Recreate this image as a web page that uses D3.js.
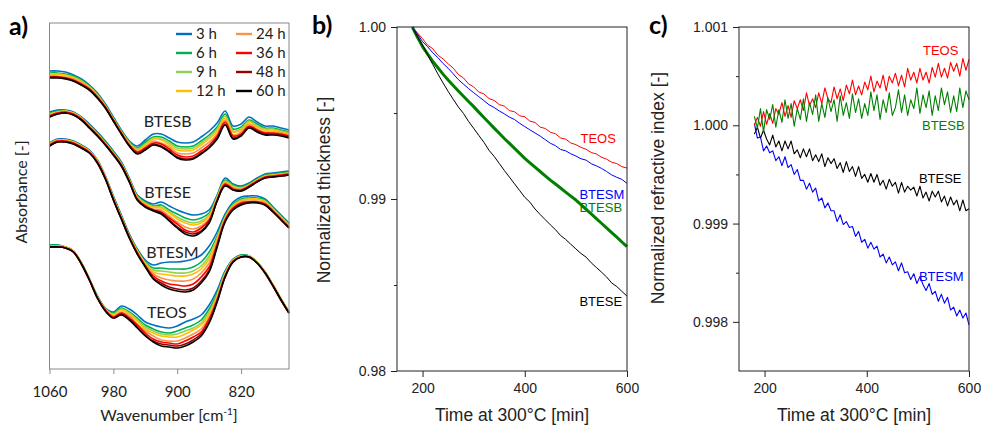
<!DOCTYPE html>
<html>
<head>
<meta charset="utf-8">
<script src="https://cdn.jsdelivr.net/npm/d3@7"></script>
<style>
  body { margin: 0; background: #fff; }
  svg { display: block; }
</style>
</head>
<body>
<svg id="chart"></svg>
<script>
// ---------- panel a: FTIR spectra ----------
let wavenumbers = [1060,1050,1040,1030,1020,1010,1000,990,980,970,960,950,940,930,920,910,900,890,880,870,860,850,840,830,820,810,800,790,780,770,760]
let hourLabels = ["3 h","6 h","9 h","12 h","24 h","36 h","48 h","60 h"]
let waveTicks = [1060, 980, 900, 820]

// absorbance with offset, arbitrary units (x0.01), one row per aging time
let absBTESB = [
  [298,298,297,294,290,284,276,265,252,239,228,223,229,235,235,231,227,226,227,232,238,246,258,243,245,252,247,243,243,241,239],
  [296,296,295,293,289,283,275,264,251,238,227,221,227,232,232,228,223,222,223,228,234,242,255,240,242,249,245,241,241,239,237],
  [295,295,294,292,288,282,274,263,250,237,226,220,225,231,230,226,221,220,221,226,232,240,253,238,240,248,243,240,240,238,236],
  [295,295,294,291,287,282,274,263,250,237,226,219,224,230,229,224,219,218,219,224,230,238,251,237,239,247,242,239,239,237,235],
  [293,293,292,290,286,281,273,262,249,236,225,218,222,228,226,222,216,215,216,221,227,235,249,234,237,245,240,237,237,236,234],
  [292,292,291,289,285,280,272,262,249,236,224,217,221,226,225,220,214,212,213,218,224,233,247,233,235,243,239,236,236,235,233],
  [292,292,291,288,284,279,271,261,248,235,223,216,220,225,223,218,212,210,211,216,222,231,245,231,234,242,238,235,235,234,232],
  [291,291,290,288,284,279,271,261,248,235,223,215,219,224,222,217,211,209,210,215,221,230,244,230,233,241,237,234,234,233,231]
]
let absBTESE = [
  [257,259,259,257,252,245,237,228,218,207,191,174,168,165,167,163,159,156,154,155,159,174,191,185,183,186,191,195,196,197,198],
  [256,258,258,256,251,244,236,227,217,206,190,173,167,163,164,159,155,151,149,151,156,173,189,184,182,185,190,194,195,196,197],
  [255,257,258,256,251,243,235,226,216,205,189,172,166,162,162,157,152,148,146,148,154,172,188,183,181,184,189,193,194,195,196],
  [255,257,258,256,251,243,235,226,216,205,189,172,165,162,161,156,150,146,144,146,153,171,187,182,181,184,189,193,194,195,196],
  [254,256,257,255,250,242,234,225,215,204,188,171,164,160,159,153,147,142,140,143,150,170,186,181,180,183,188,192,193,194,195],
  [253,256,257,255,250,242,234,225,215,204,188,170,163,159,157,151,145,139,137,141,149,169,185,180,179,183,188,192,193,194,195],
  [252,255,256,254,249,241,233,224,214,203,187,169,162,159,156,149,142,137,135,138,147,168,184,179,178,182,187,191,192,193,194],
  [252,255,256,254,249,241,233,224,214,203,187,169,162,158,155,148,141,135,133,137,146,168,183,179,178,182,187,191,192,193,194]
]
let absBTESM = [
  [226,230,230,228,224,219,209,193,173,154,135,120,109,104,106,107,107,108,110,114,123,137,155,167,172,173,173,170,162,154,146],
  [225,229,229,227,223,218,208,192,172,153,134,119,107,101,101,100,100,100,102,107,117,133,153,165,170,171,171,169,161,153,145],
  [225,229,229,227,223,218,208,192,171,152,133,118,106,99,98,97,96,96,98,103,113,131,152,164,169,170,170,168,160,152,144],
  [225,229,229,227,223,218,208,192,171,152,133,118,106,97,95,94,93,93,95,100,110,130,151,163,168,170,170,167,160,152,144],
  [224,228,228,226,222,217,207,191,170,151,132,117,104,95,91,89,88,88,90,96,106,127,150,162,167,168,168,166,159,151,143],
  [224,228,228,226,222,217,207,191,170,151,132,116,103,93,88,85,84,83,85,92,102,125,149,161,166,167,167,165,158,150,142],
  [223,227,227,225,221,216,206,190,169,150,131,115,103,91,86,82,80,79,81,88,99,123,148,160,165,167,167,164,157,149,141],
  [223,227,227,225,221,216,206,190,169,150,131,115,102,90,84,80,78,77,79,86,97,122,147,159,164,166,166,164,157,149,141]
]
let absTEOS = [
  [124,124,122,118,106,90,73,61,57,63,60,54,47,44,42,41,43,47,50,54,64,79,98,110,114,113,107,97,84,70,57],
  [124,124,122,118,106,90,73,60,56,61,57,51,44,40,37,36,38,41,44,49,60,76,97,109,114,113,107,97,84,70,57],
  [123,123,122,118,106,90,72,60,55,60,56,49,42,38,35,34,35,38,41,46,57,74,96,109,113,113,107,97,84,70,57],
  [123,123,122,118,106,90,72,60,54,59,55,48,40,36,33,32,32,35,39,44,55,73,95,109,113,113,107,97,84,70,57],
  [123,123,121,117,105,89,72,59,53,57,53,45,38,33,29,28,28,31,35,40,52,71,94,108,113,112,106,96,83,69,56],
  [122,122,121,117,105,89,71,59,52,56,51,44,36,30,27,26,25,28,32,37,50,69,93,108,112,112,106,96,83,69,56],
  [122,122,121,117,105,89,71,58,51,55,50,42,34,28,25,24,23,25,29,35,47,68,92,107,112,112,106,96,83,69,56],
  [122,122,121,117,105,89,71,58,51,54,49,41,33,27,23,22,21,23,27,33,46,67,92,107,112,112,106,96,83,69,56]
]
let spectraNames = ["BTESB", "BTESE", "BTESM", "TEOS"]
// label anchor per film: [wavenumber, absorbance]
let spectraLabelAt = [[912, 242], [912, 171], [906, 111], [913, 51]]

// ---------- panel b: thickness ----------
let timeB = [180,190,200,210,220,230,240,250,260,270,280,290,300,310,320,330,340,350,360,370,380,390,400,410,420,430,440,450,460,470,480,490,500,510,520,530,540,550,560,570,580,590,600]
let thickTEOS = [1.00000,0.99966,0.99932,0.99894,0.99874,0.99836,0.99815,0.99786,0.99761,0.99724,0.99704,0.99669,0.99652,0.99622,0.99611,0.99584,0.99573,0.99549,0.99540,0.99514,0.99507,0.99484,0.99478,0.99453,0.99445,0.99418,0.99410,0.99388,0.99379,0.99355,0.99348,0.99326,0.99316,0.99300,0.99289,0.99270,0.99262,0.99243,0.99232,0.99214,0.99206,0.99188,0.99180]
let thickBTESM = [1.00000,0.99960,0.99915,0.99885,0.99850,0.99822,0.99788,0.99760,0.99728,0.99694,0.99668,0.99642,0.99618,0.99595,0.99572,0.99548,0.99532,0.99512,0.99495,0.99476,0.99462,0.99440,0.99421,0.99402,0.99384,0.99366,0.99345,0.99324,0.99310,0.99288,0.99280,0.99263,0.99250,0.99234,0.99226,0.99205,0.99193,0.99178,0.99160,0.99140,0.99126,0.99114,0.99091]
let thickBTESB = [1.00000,0.99940,0.99886,0.99842,0.99800,0.99763,0.99726,0.99692,0.99660,0.99628,0.99597,0.99567,0.99537,0.99505,0.99474,0.99443,0.99412,0.99382,0.99352,0.99323,0.99294,0.99265,0.99236,0.99210,0.99185,0.99160,0.99135,0.99110,0.99087,0.99064,0.99040,0.99017,0.98994,0.98967,0.98940,0.98913,0.98886,0.98859,0.98832,0.98805,0.98778,0.98750,0.98723]
let thickBTESE = [1.00000,0.99945,0.99895,0.99838,0.99782,0.99727,0.99675,0.99626,0.99580,0.99535,0.99498,0.99451,0.99411,0.99370,0.99330,0.99283,0.99248,0.99207,0.99166,0.99127,0.99088,0.99049,0.99010,0.98982,0.98942,0.98910,0.98880,0.98850,0.98822,0.98788,0.98765,0.98737,0.98710,0.98683,0.98662,0.98629,0.98602,0.98575,0.98547,0.98512,0.98491,0.98463,0.98435]
let timeTicks = [200, 400, 600]
let thickTicks = [0.98, 0.99, 1.00]
let thickMinor = [0.985, 0.995]

// ---------- panel c: refractive index ----------
let timeC = [180,186,192,198,204,210,216,222,228,234,240,246,252,258,264,270,276,282,288,294,300,306,312,318,324,330,336,342,348,354,360,366,372,378,384,390,396,402,408,414,420,426,432,438,444,450,456,462,468,474,480,486,492,498,504,510,516,522,528,534,540,546,552,558,564,570,576,582,588,594,600]
let riTEOS = [1.00000,1.00008,0.99999,1.00014,1.00001,1.00012,1.00002,1.00017,1.00011,1.00023,1.00009,1.00020,1.00008,1.00025,1.00017,1.00026,1.00015,1.00033,1.00020,1.00027,1.00018,1.00033,1.00022,1.00038,1.00027,1.00023,1.00039,1.00027,1.00037,1.00025,1.00041,1.00032,1.00046,1.00031,1.00040,1.00031,1.00044,1.00036,1.00050,1.00034,1.00045,1.00038,1.00051,1.00035,1.00050,1.00043,1.00053,1.00040,1.00051,1.00039,1.00058,1.00046,1.00054,1.00043,1.00058,1.00046,1.00054,1.00043,1.00059,1.00049,1.00063,1.00049,1.00058,1.00048,1.00064,1.00055,1.00063,1.00050,1.00068,1.00056,1.00067]
let riBTESB = [1.00009,0.99997,1.00017,0.99993,1.00016,1.00006,1.00021,0.99998,1.00016,1.00003,1.00026,1.00007,1.00022,0.99999,1.00017,1.00006,1.00027,1.00004,1.00023,1.00011,1.00031,1.00004,1.00022,1.00008,1.00028,1.00014,1.00026,1.00004,1.00030,1.00010,1.00023,1.00007,1.00032,1.00013,1.00027,1.00007,1.00022,1.00010,1.00034,1.00015,1.00031,1.00006,1.00026,1.00013,1.00033,1.00010,1.00018,1.00036,1.00013,1.00031,1.00010,1.00026,1.00017,1.00038,1.00012,1.00031,1.00018,1.00035,1.00010,1.00030,1.00015,1.00038,1.00021,1.00034,1.00013,1.00030,1.00014,1.00038,1.00018,1.00035,1.00026]
let riBTESE = [0.99991,0.99998,0.99987,0.99995,0.99986,0.99980,0.99990,0.99978,0.99984,0.99974,0.99984,0.99976,0.99984,0.99971,0.99975,0.99967,0.99976,0.99968,0.99976,0.99964,0.99970,0.99963,0.99971,0.99958,0.99967,0.99961,0.99966,0.99956,0.99962,0.99952,0.99963,0.99953,0.99958,0.99948,0.99958,0.99946,0.99950,0.99942,0.99951,0.99942,0.99950,0.99939,0.99944,0.99935,0.99945,0.99938,0.99942,0.99931,0.99942,0.99932,0.99938,0.99934,0.99937,0.99928,0.99938,0.99926,0.99932,0.99923,0.99933,0.99927,0.99933,0.99922,0.99928,0.99918,0.99927,0.99919,0.99924,0.99913,0.99924,0.99913,0.99915]
let riBTESM = [1.00002,0.99987,0.99988,0.99974,0.99979,0.99972,0.99974,0.99964,0.99968,0.99959,0.99968,0.99957,0.99960,0.99950,0.99955,0.99944,0.99944,0.99935,0.99941,0.99932,0.99936,0.99923,0.99926,0.99916,0.99921,0.99913,0.99913,0.99902,0.99909,0.99899,0.99902,0.99896,0.99897,0.99887,0.99892,0.99881,0.99884,0.99875,0.99881,0.99874,0.99877,0.99866,0.99869,0.99860,0.99866,0.99858,0.99861,0.99852,0.99860,0.99850,0.99851,0.99843,0.99849,0.99839,0.99846,0.99838,0.99832,0.99839,0.99828,0.99831,0.99821,0.99828,0.99819,0.99825,0.99812,0.99815,0.99806,0.99812,0.99804,0.99809,0.99797]
let riTicks = [0.998, 0.999, 1.000, 1.001]
let riMinor = [0.9985, 0.9995, 1.0005]

// ---------- styles ----------
let hourColors = ["#0070c0", "#00b050", "#92d050", "#ffc000", "#f79646", "#ff0000", "#990000", "#000000"]
let calibri = "Lato, 'Open Sans', sans-serif"
let arial = "'Liberation Sans', Arial, sans-serif"

let svg = d3.select("#chart")
  .attr("width", 981)
  .attr("height", 428)

let panelLabel = (txt, x, y) => {
  svg.append("text")
     .attr("x", x).attr("y", y)
     .text(txt)
     .style("font-family", calibri)
     .style("font-weight", "bold")
     .style("font-size", "25px")
}

// ================= panel a =================
let drawSpectra = () => {
  let x = d3.scaleLinear().domain([1060, 760]).range([49.5, 289])
  let y = d3.scaleLinear().domain([0, 346]).range([369, 23])

  let line = d3.line()
    .x((d, i) => x(wavenumbers[i]))
    .y(d => y(d))
    .curve(d3.curveCatmullRom.alpha(0.5))

  let groups = [absBTESB, absBTESE, absBTESM, absTEOS]
  groups.forEach((g) => {
    svg.append("g")
       .selectAll("path")
       .data(g)
       .enter()
       .append("path")
       .attr("d", line)
       .attr("fill", "none")
       .attr("stroke", (d, i) => hourColors[i])
       .attr("stroke-width", 1.6)
  })

  spectraNames.forEach((n, i) => {
    svg.append("text")
       .attr("x", x(spectraLabelAt[i][0]))
       .attr("y", y(spectraLabelAt[i][1]))
       .attr("text-anchor", "middle")
       .text(n)
       .style("font-family", calibri)
       .style("font-size", "16px")
       .style("fill", "#222")
  })

  // frame
  svg.append("rect")
     .attr("x", 49.5).attr("y", 23)
     .attr("width", 239.5).attr("height", 346)
     .attr("fill", "none")
     .attr("stroke", "#8a8a8a")

  let xAxis = d3.axisBottom(x)
    .tickValues(waveTicks)
    .tickSize(5)
    .tickPadding(12)
    .tickFormat(d3.format("d"))

  let gx = svg.append("g")
    .attr("transform", "translate(0,369)")
    .call(xAxis)
  gx.select(".domain").remove()
  gx.selectAll("line").attr("stroke", "#8a8a8a")
  gx.selectAll("text")
    .style("font-family", calibri)
    .style("font-size", "15px")
    .style("fill", "#222")

  let xt = svg.append("text")
    .attr("x", 169).attr("y", 421)
    .attr("text-anchor", "middle")
    .style("font-family", calibri)
    .style("font-size", "16px")
    .style("fill", "#222")
  xt.append("tspan").text("Wavenumber [cm")
  xt.append("tspan").text("-1").attr("dy", -6).style("font-size", "10px")
  xt.append("tspan").text("]").attr("dy", 6)

  svg.append("text")
     .attr("transform", "translate(27,192) rotate(-90)")
     .attr("text-anchor", "middle")
     .text("Absorbance [-]")
     .style("font-family", calibri)
     .style("font-size", "16px")
     .style("fill", "#222")

  // legend
  let leg = svg.append("g")
  hourLabels.forEach((h, i) => {
    let col = Math.floor(i / 4)
    let row = i % 4
    let lx = col ? 236 : 176
    let ly = 34 + row * 19
    leg.append("line")
       .attr("x1", lx).attr("x2", lx + 16)
       .attr("y1", ly).attr("y2", ly)
       .attr("stroke", hourColors[i])
       .attr("stroke-width", 2.4)
    leg.append("text")
       .attr("x", lx + 20).attr("y", ly + 5)
       .text(h)
       .style("font-family", calibri)
       .style("font-size", "15px")
       .style("fill", "#222")
  })

  panelLabel("a)", 9, 35)
}

// ================= shared time panel =================
let drawTimePanel = (opt) => {
  let x = d3.scaleLinear().domain([150, 600]).range([opt.left, opt.right])
  let y = d3.scaleLinear().domain(opt.yDomain).range([371, 27])

  let line = d3.line()
    .x((d, i) => x(opt.time[i]))
    .y(d => y(d))

  opt.series.forEach((s) => {
    svg.append("path")
       .datum(s.values)
       .attr("d", line)
       .attr("fill", "none")
       .attr("stroke", s.color)
       .attr("stroke-width", s.width)
       .attr("stroke-linejoin", "round")
  })

  // frame
  svg.append("rect")
     .attr("x", opt.left).attr("y", 27)
     .attr("width", opt.right - opt.left).attr("height", 344)
     .attr("fill", "none")
     .attr("stroke", "#222")

  let gx = svg.append("g")
    .attr("transform", "translate(0,371)")
    .call(d3.axisBottom(x).tickValues(timeTicks).tickSize(6).tickPadding(6))
  gx.select(".domain").remove()

  let gy = svg.append("g")
    .attr("transform", "translate(" + opt.left + ",0)")
    .call(d3.axisLeft(y).tickValues(opt.ticks).tickSize(6).tickPadding(5).tickFormat(d3.format(opt.fmt)))
  gy.select(".domain").remove()

  let gm = svg.append("g")
    .attr("transform", "translate(" + opt.left + ",0)")
    .call(d3.axisLeft(y).tickValues(opt.minor).tickSize(3).tickFormat(""))
  gm.select(".domain").remove()

  ;[gx, gy, gm].forEach((g) => {
    g.selectAll("line").attr("stroke", "#222")
    g.selectAll("text")
     .style("font-family", arial)
     .style("font-size", "14px")
     .style("fill", "#222")
  })

  svg.append("text")
     .attr("x", (opt.left + opt.right) / 2).attr("y", 421)
     .attr("text-anchor", "middle")
     .text("Time at 300°C [min]")
     .style("font-family", arial)
     .style("font-size", "17.5px")
     .style("fill", "#222")

  svg.append("text")
     .attr("transform", "translate(" + opt.titleX + "," + opt.titleY + ") rotate(-90)")
     .attr("text-anchor", "middle")
     .text(opt.title)
     .style("font-family", arial)
     .style("font-size", "17.5px")
     .style("fill", "#222")

  opt.labels.forEach((l) => {
    svg.append("text")
       .attr("x", x(l.t)).attr("y", y(l.v))
       .text(l.name)
       .style("font-family", arial)
       .style("font-size", "13px")
       .style("fill", l.color)
  })

  panelLabel(opt.tag, opt.tagX, 34)
}

drawSpectra()

drawTimePanel({
  left: 397, right: 627,
  yDomain: [0.98, 1.0],
  time: timeB,
  ticks: thickTicks, minor: thickMinor, fmt: ".2f",
  title: "Normalized thickness [-]", titleX: 330, titleY: 190,
  tag: "b)", tagX: 312,
  series: [
    { values: thickBTESB, color: "#008000", width: 3 },
    { values: thickBTESE, color: "#000000", width: 1 },
    { values: thickBTESM, color: "#0000ff", width: 1 },
    { values: thickTEOS, color: "#ff0000", width: 1 }
  ],
  labels: [
    { name: "TEOS", t: 509, v: 0.99326, color: "#ff0000" },
    { name: "BTESM", t: 507, v: 0.99000, color: "#0000ff" },
    { name: "BTESB", t: 507, v: 0.98924, color: "#008000" },
    { name: "BTESE", t: 507, v: 0.98378, color: "#000000" }
  ]
})

drawTimePanel({
  left: 739, right: 969,
  yDomain: [0.9975, 1.001],
  time: timeC,
  ticks: riTicks, minor: riMinor, fmt: ".3f",
  title: "Normalized refractive index [-]", titleX: 664, titleY: 188,
  tag: "c)", tagX: 649,
  series: [
    { values: riBTESE, color: "#000000", width: 1.1 },
    { values: riBTESM, color: "#0000ff", width: 1.1 },
    { values: riTEOS, color: "#ff0000", width: 1.1 },
    { values: riBTESB, color: "#008000", width: 1.1 }
  ],
  labels: [
    { name: "TEOS", t: 510, v: 1.000715, color: "#ff0000" },
    { name: "BTESB", t: 508, v: 0.999952, color: "#008000" },
    { name: "BTESE", t: 502, v: 0.999413, color: "#000000" },
    { name: "BTESM", t: 502, v: 0.998416, color: "#0000ff" }
  ]
})
</script>
</body>
</html>
